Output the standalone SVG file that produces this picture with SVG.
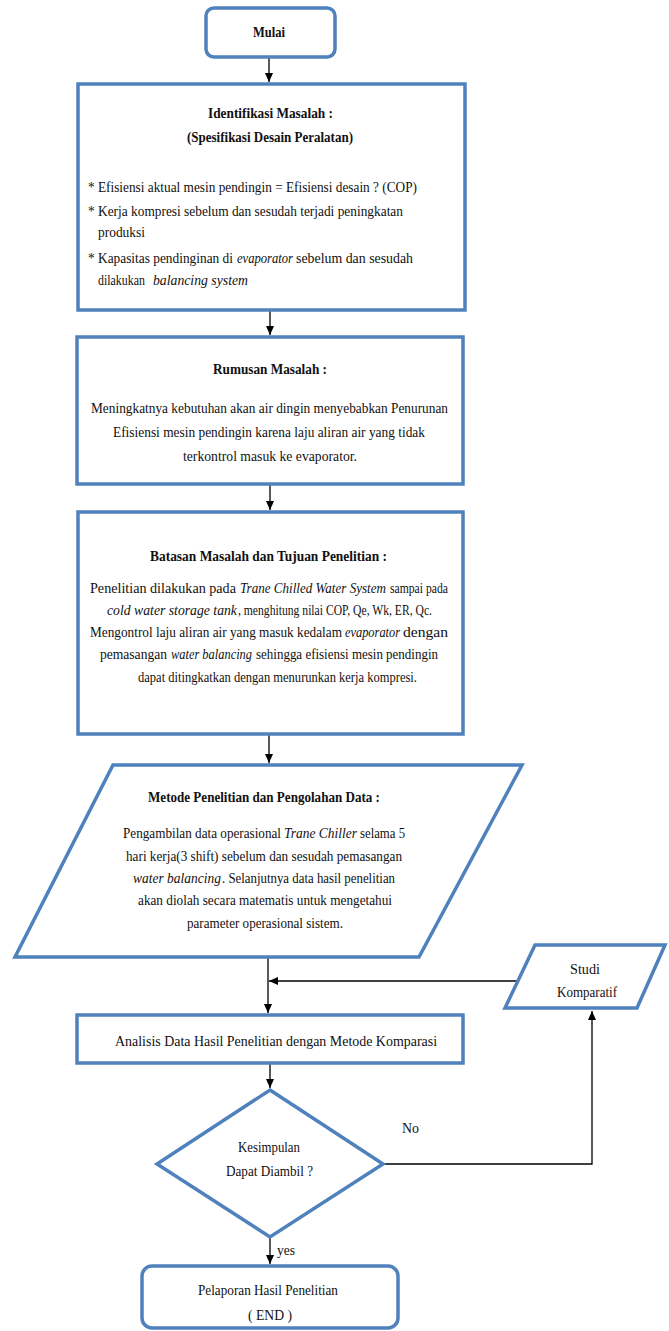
<svg xmlns="http://www.w3.org/2000/svg" width="669" height="1331" viewBox="0 0 669 1331">
<style>
.box{fill:#fff;stroke:#4F81BD;stroke-width:3.5;stroke-linejoin:miter}
.t{font-family:"Liberation Serif","DejaVu Serif",serif;font-size:15px;fill:#111}
.b{font-weight:bold}
.i{font-style:italic}
.c{fill:none;stroke:#000;stroke-width:1.3}
</style>
<defs>
<marker id="ah" markerUnits="userSpaceOnUse" markerWidth="9" markerHeight="8" refX="9" refY="4" orient="auto">
<path d="M0,0 L9,4 L0,8 z" fill="#000"/>
</marker>
</defs>
<rect width="669" height="1331" fill="#fff"/>
<g id="connectors">
<line class="c" x1="269" y1="57" x2="269" y2="82" marker-end="url(#ah)"/>
<line class="c" x1="270" y1="310" x2="270" y2="335" marker-end="url(#ah)"/>
<line class="c" x1="270" y1="484" x2="270" y2="510" marker-end="url(#ah)"/>
<line class="c" x1="269" y1="734" x2="269" y2="763" marker-end="url(#ah)"/>
<line class="c" x1="268" y1="957" x2="268" y2="1013" marker-end="url(#ah)"/>
<line class="c" x1="518" y1="981" x2="269" y2="981" marker-end="url(#ah)"/>
<line class="c" x1="270" y1="1063" x2="270" y2="1088" marker-end="url(#ah)"/>
<polyline class="c" points="383,1164 592,1164 592,1011" marker-end="url(#ah)"/>
<line class="c" x1="270" y1="1237" x2="270" y2="1264" marker-end="url(#ah)"/>
</g>
<g id="mulai">
<rect class="box" x="206" y="8" width="129" height="49" rx="8"/>
<text class="t b" transform="translate(253 37) scale(0.82 1)" textLength="39" lengthAdjust="spacingAndGlyphs">Mulai</text>
</g>
<g id="identifikasi">
<rect class="box" x="78" y="84" width="387" height="226"/>
<text class="t b" transform="translate(208 118) scale(0.82 1)" textLength="152.4" lengthAdjust="spacingAndGlyphs">Identifikasi Masalah :</text>
<text class="t b" transform="translate(187 142) scale(0.82 1)" textLength="202.4" lengthAdjust="spacingAndGlyphs">(Spesifikasi Desain Peralatan)</text>
<text class="t" transform="translate(88 192) scale(0.82 1)" textLength="401.2" lengthAdjust="spacingAndGlyphs">* Efisiensi aktual mesin pendingin = Efisiensi desain ? (COP)</text>
<text class="t" transform="translate(88 216) scale(0.82 1)" textLength="384.1" lengthAdjust="spacingAndGlyphs">* Kerja kompresi sebelum dan sesudah terjadi peningkatan</text>
<text class="t" transform="translate(98 237) scale(0.82 1)" textLength="57.3" lengthAdjust="spacingAndGlyphs">produksi</text>
<text class="t" transform="translate(88 263) scale(0.82 1)" textLength="176.8" lengthAdjust="spacingAndGlyphs">* Kapasitas pendinginan di</text>
<text class="t i" transform="translate(237 263) scale(0.82 1)" textLength="68.3" lengthAdjust="spacingAndGlyphs">evaporator</text>
<text class="t" transform="translate(296 263) scale(0.82 1)" textLength="142.7" lengthAdjust="spacingAndGlyphs">sebelum dan sesudah</text>
<text class="t" transform="translate(98 285) scale(0.82 1)" textLength="57.3" lengthAdjust="spacingAndGlyphs">dilakukan</text>
<text class="t i" transform="translate(153 285) scale(0.82 1)" textLength="115.8" lengthAdjust="spacingAndGlyphs">balancing system</text>
</g>
<g id="rumusan">
<rect class="box" x="77" y="337" width="386" height="147"/>
<text class="t b" transform="translate(213 374) scale(0.82 1)" textLength="139" lengthAdjust="spacingAndGlyphs">Rumusan Masalah :</text>
<text class="t" transform="translate(91 413) scale(0.82 1)" textLength="435.4" lengthAdjust="spacingAndGlyphs">Meningkatnya kebutuhan akan air dingin menyebabkan Penurunan</text>
<text class="t" transform="translate(113 437) scale(0.82 1)" textLength="380.5" lengthAdjust="spacingAndGlyphs">Efisiensi mesin pendingin karena laju aliran air yang tidak</text>
<text class="t" transform="translate(183 461) scale(0.82 1)" textLength="212.2" lengthAdjust="spacingAndGlyphs">terkontrol masuk ke evaporator.</text>
</g>
<g id="batasan">
<rect class="box" x="78" y="512" width="385" height="222"/>
<text class="t b" transform="translate(150 561) scale(0.82 1)" textLength="289" lengthAdjust="spacingAndGlyphs">Batasan Masalah dan Tujuan Penelitian :</text>
<text class="t" transform="translate(90 593) scale(0.82 1)" textLength="178" lengthAdjust="spacingAndGlyphs">Penelitian dilakukan pada</text>
<text class="t i" transform="translate(240 593) scale(0.82 1)" textLength="178" lengthAdjust="spacingAndGlyphs">Trane Chilled Water System</text>
<text class="t" transform="translate(390 593) scale(0.82 1)" textLength="70.7" lengthAdjust="spacingAndGlyphs">sampai pada</text>
<text class="t i" transform="translate(107 615) scale(0.82 1)" textLength="158.5" lengthAdjust="spacingAndGlyphs">cold water storage tank</text>
<text class="t" transform="translate(238 615) scale(0.82 1)" textLength="236.6" lengthAdjust="spacingAndGlyphs">, menghitung nilai COP, Qe, Wk, ER, Qc.</text>
<text class="t" transform="translate(90 637) scale(0.82 1)" textLength="307.3" lengthAdjust="spacingAndGlyphs">Mengontrol laju aliran air yang masuk kedalam</text>
<text class="t i" transform="translate(345 637) scale(0.82 1)" textLength="67.1" lengthAdjust="spacingAndGlyphs">evaporator</text>
<text class="t" transform="translate(403 637) scale(0.82 1)" textLength="54.9" lengthAdjust="spacingAndGlyphs">dengan</text>
<text class="t" transform="translate(100 659) scale(0.82 1)" textLength="81.7" lengthAdjust="spacingAndGlyphs">pemasangan</text>
<text class="t i" transform="translate(171 659) scale(0.82 1)" textLength="98.8" lengthAdjust="spacingAndGlyphs">water balancing</text>
<text class="t" transform="translate(256 659) scale(0.82 1)" textLength="222" lengthAdjust="spacingAndGlyphs">sehingga efisiensi mesin pendingin</text>
<text class="t" transform="translate(138 682) scale(0.82 1)" textLength="340.2" lengthAdjust="spacingAndGlyphs">dapat ditingkatkan dengan menurunkan kerja kompresi.</text>
</g>
<g id="metode">
<polygon class="box" points="113,765 522,765 419,957 15,957"/>
<text class="t b" transform="translate(148 802) scale(0.82 1)" textLength="282.9" lengthAdjust="spacingAndGlyphs">Metode Penelitian dan Pengolahan Data :</text>
<text class="t" transform="translate(123 838) scale(0.82 1)" textLength="192.7" lengthAdjust="spacingAndGlyphs">Pengambilan data operasional</text>
<text class="t i" transform="translate(284 838) scale(0.82 1)" textLength="89" lengthAdjust="spacingAndGlyphs">Trane Chiller</text>
<text class="t" transform="translate(360 838) scale(0.82 1)" textLength="54.9" lengthAdjust="spacingAndGlyphs">selama 5</text>
<text class="t" transform="translate(126 861) scale(0.82 1)" textLength="336.6" lengthAdjust="spacingAndGlyphs">hari kerja(3 shift) sebelum dan sesudah pemasangan</text>
<text class="t i" transform="translate(133 883) scale(0.82 1)" textLength="107.3" lengthAdjust="spacingAndGlyphs">water balancing</text>
<text class="t" transform="translate(222 883) scale(0.82 1)" textLength="211" lengthAdjust="spacingAndGlyphs">. Selanjutnya data hasil penelitian</text>
<text class="t" transform="translate(138 905) scale(0.82 1)" textLength="309.8" lengthAdjust="spacingAndGlyphs">akan diolah secara matematis untuk mengetahui</text>
<text class="t" transform="translate(187 928) scale(0.82 1)" textLength="190.2" lengthAdjust="spacingAndGlyphs">parameter operasional sistem.</text>
</g>
<g id="studi">
<polygon class="box" points="535,945 665,945 637,1008 505,1008"/>
<text class="t" transform="translate(570 974) scale(0.82 1)" textLength="36.6" lengthAdjust="spacingAndGlyphs">Studi</text>
<text class="t" transform="translate(557 997) scale(0.82 1)" textLength="73.2" lengthAdjust="spacingAndGlyphs">Komparatif</text>
</g>
<g id="analisis">
<rect class="box" x="77" y="1015" width="386" height="48"/>
<text class="t" transform="translate(115 1046) scale(0.82 1)" textLength="392.7" lengthAdjust="spacingAndGlyphs">Analisis Data Hasil Penelitian dengan Metode Komparasi</text>
</g>
<g id="kesimpulan">
<polygon class="box" points="270,1090 383,1164 270,1237 157,1164"/>
<text class="t" transform="translate(238 1152) scale(0.82 1)" textLength="75.6" lengthAdjust="spacingAndGlyphs">Kesimpulan</text>
<text class="t" transform="translate(226 1176) scale(0.82 1)" textLength="106.1" lengthAdjust="spacingAndGlyphs">Dapat Diambil ?</text>
</g>
<g id="labels">
<text class="t" transform="translate(402 1133) scale(0.82 1)" textLength="20.7" lengthAdjust="spacingAndGlyphs">No</text>
<text class="t" transform="translate(277 1255) scale(0.82 1)" textLength="22" lengthAdjust="spacingAndGlyphs">yes</text>
</g>
<g id="pelaporan">
<rect class="box" x="142" y="1266" width="256" height="62" rx="10"/>
<text class="t" transform="translate(198 1295) scale(0.82 1)" textLength="170.7" lengthAdjust="spacingAndGlyphs">Pelaporan Hasil Penelitian</text>
<text class="t" transform="translate(248 1320) scale(0.82 1)" textLength="53.7" lengthAdjust="spacingAndGlyphs">( END )</text>
</g>
</svg>
